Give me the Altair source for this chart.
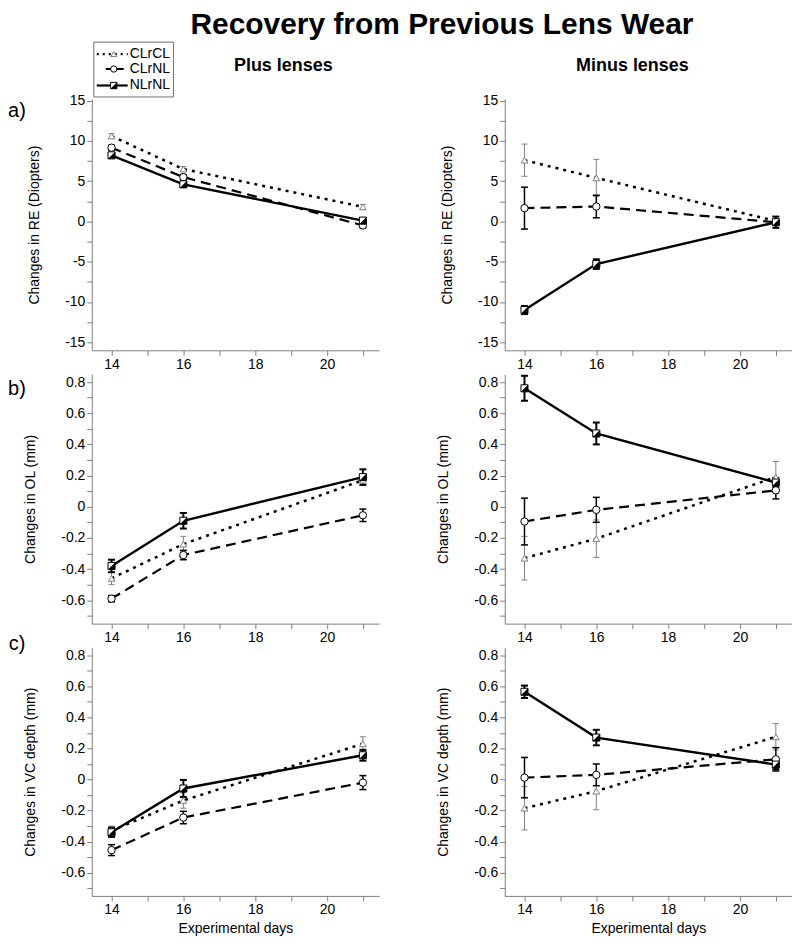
import altair as alt
import pandas as pd

FONT = "Liberation Sans"

days = [14, 16, 21]
series = ["CLrCL", "CLrNL", "NLrNL"]
headers = ["Plus lenses", "Minus lenses"]
panel_letters = ["a)", "b)", "c)"]
main_title = "Recovery from Previous Lens Wear"
y_titles = ["Changes in RE (Diopters)", "Changes in OL (mm)", "Changes in VC depth (mm)"]
x_title = "Experimental days"

x_ticks = [14, 15, 16, 17, 18, 19, 20, 21]
re_ticks = [-15, -12.5, -10, -7.5, -5, -2.5, 0, 2.5, 5, 7.5, 10, 12.5, 15]
mm_ticks = [-0.7, -0.6, -0.5, -0.4, -0.3, -0.2, -0.1, 0, 0.1, 0.2, 0.3, 0.4, 0.5, 0.6, 0.7, 0.8]

# a) refractive error, plus lenses
re_plus_CLrCL = [10.6, 6.5, 1.8]
re_plus_CLrCL_se = [0.3, 0.3, 0.3]
re_plus_CLrNL = [9.15, 5.5, -0.5]
re_plus_CLrNL_se = [0.3, 0.3, 0.3]
re_plus_NLrNL = [8.2, 4.6, 0.1]
re_plus_NLrNL_se = [0.3, 0.3, 0.3]
# a) refractive error, minus lenses
re_minus_CLrCL = [7.6, 5.4, 0.05]
re_minus_CLrCL_se = [2.0, 2.3, 0.3]
re_minus_CLrNL = [1.65, 1.85, -0.1]
re_minus_CLrNL_se = [2.6, 1.4, 0.3]
re_minus_NLrNL = [-11.0, -5.3, -0.1]
re_minus_NLrNL_se = [0.5, 0.6, 0.7]
# b) optical length, plus lenses
ol_plus_CLrCL = [-0.46, -0.24, 0.17]
ol_plus_CLrCL_se = [0.04, 0.05, 0.02]
ol_plus_CLrNL = [-0.59, -0.31, -0.055]
ol_plus_CLrNL_se = [0.02, 0.03, 0.04]
ol_plus_NLrNL = [-0.38, -0.09, 0.19]
ol_plus_NLrNL_se = [0.04, 0.05, 0.05]
# b) optical length, minus lenses
ol_minus_CLrCL = [-0.33, -0.205, 0.19]
ol_minus_CLrCL_se = [0.14, 0.12, 0.10]
ol_minus_CLrNL = [-0.095, -0.02, 0.105]
ol_minus_CLrNL_se = [0.15, 0.08, 0.055]
ol_minus_NLrNL = [0.76, 0.47, 0.155]
ol_minus_NLrNL_se = [0.08, 0.07, 0.03]
# c) vitreous chamber depth, plus lenses
vc_plus_CLrCL = [-0.33, -0.135, 0.23]
vc_plus_CLrCL_se = [0.03, 0.05, 0.045]
vc_plus_CLrNL = [-0.455, -0.245, -0.02]
vc_plus_CLrNL_se = [0.035, 0.04, 0.045]
vc_plus_NLrNL = [-0.34, -0.058, 0.156]
vc_plus_NLrNL_se = [0.03, 0.055, 0.035]
# c) vitreous chamber depth, minus lenses
vc_minus_CLrCL = [-0.185, -0.075, 0.275]
vc_minus_CLrCL_se = [0.14, 0.12, 0.085]
vc_minus_CLrNL = [0.012, 0.03, 0.13]
vc_minus_CLrNL_se = [0.13, 0.07, 0.075]
vc_minus_NLrNL = [0.565, 0.27, 0.096]
vc_minus_NLrNL_se = [0.04, 0.05, 0.03]

PANEL_DATA = {
    ("re", "plus"): [(re_plus_CLrCL, re_plus_CLrCL_se), (re_plus_CLrNL, re_plus_CLrNL_se), (re_plus_NLrNL, re_plus_NLrNL_se)],
    ("re", "minus"): [(re_minus_CLrCL, re_minus_CLrCL_se), (re_minus_CLrNL, re_minus_CLrNL_se), (re_minus_NLrNL, re_minus_NLrNL_se)],
    ("ol", "plus"): [(ol_plus_CLrCL, ol_plus_CLrCL_se), (ol_plus_CLrNL, ol_plus_CLrNL_se), (ol_plus_NLrNL, ol_plus_NLrNL_se)],
    ("ol", "minus"): [(ol_minus_CLrCL, ol_minus_CLrCL_se), (ol_minus_CLrNL, ol_minus_CLrNL_se), (ol_minus_NLrNL, ol_minus_NLrNL_se)],
    ("vc", "plus"): [(vc_plus_CLrCL, vc_plus_CLrCL_se), (vc_plus_CLrNL, vc_plus_CLrNL_se), (vc_plus_NLrNL, vc_plus_NLrNL_se)],
    ("vc", "minus"): [(vc_minus_CLrCL, vc_minus_CLrCL_se), (vc_minus_CLrNL, vc_minus_CLrNL_se), (vc_minus_NLrNL, vc_minus_NLrNL_se)],
}

STYLE = {
    "CLrCL": dict(dash=[3, 5], lw=2.5, ecolor="#808080", ew=1, cap=6),
    "CLrNL": dict(dash=[10, 6], lw=2.2, ecolor="black", ew=1.5, cap=7),
    "NLrNL": dict(dash=None, lw=2.4, ecolor="black", ew=2, cap=7),
}
HALF = "M 1 -1 L 1 1 L -1 1 Z"

W = 288
HEIGHTS = [252, 250, 249]
XDOM = [13.45, 21.45]
YDOM = {"re": [-16, 15.2], "ol": [-0.75, 0.85], "vc": [-0.75, 0.85]}


def x_enc(show_title):
    return alt.X(
        "day:Q",
        scale=alt.Scale(domain=XDOM, nice=False, zero=False),
        axis=alt.Axis(
            values=x_ticks,
            labelExpr="datum.value % 2 == 0 ? toString(datum.value) : ''",
            title=x_title if show_title else None,
            titlePadding=5,
        ),
    )


def y_enc(field, key, row):
    if key == "re":
        vals, lexpr = re_ticks, "datum.value % 5 == 0 ? toString(datum.value) : ''"
    else:
        vals, lexpr = mm_ticks, "abs(round(datum.value * 10)) % 2 == 0 ? toString(datum.value) : ''"
    return alt.Y(
        f"{field}:Q",
        scale=alt.Scale(domain=YDOM[key], nice=False, zero=False),
        axis=alt.Axis(values=vals, labelExpr=lexpr, title=y_titles[row], titlePadding=23),
    )


def make_panel(row, col):
    key = ["re", "ol", "vc"][row]
    side = ["plus", "minus"][col]
    show_x_title = row == 2
    frames = {}
    for s, (vals, se) in zip(series, PANEL_DATA[(key, side)]):
        frames[s] = pd.DataFrame({
            "day": days,
            "val": vals,
            "lo": [v - e for v, e in zip(vals, se)],
            "hi": [v + e for v, e in zip(vals, se)],
            "series": s,
        })
    X = x_enc(show_x_title)
    layers = []
    # lines
    for s in series:
        st = STYLE[s]
        kw = dict(color="black", strokeWidth=st["lw"], strokeCap="butt")
        if st["dash"]:
            kw["strokeDash"] = st["dash"]
        layers.append(alt.Chart(frames[s]).mark_line(**kw).encode(x=X, y=y_enc("val", key, row)))
    # error bars
    for s in series:
        st = STYLE[s]
        layers.append(alt.Chart(frames[s]).mark_rule(color=st["ecolor"], strokeWidth=st["ew"]).encode(
            x=X, y=y_enc("lo", key, row), y2="hi:Q"))
        for f in ["lo", "hi"]:
            layers.append(alt.Chart(frames[s]).mark_tick(
                orient="horizontal", color=st["ecolor"], size=st["cap"], thickness=st["ew"], opacity=1
            ).encode(x=X, y=y_enc(f, key, row)))
    # markers
    layers.append(alt.Chart(frames["CLrCL"]).mark_point(
        shape="triangle-up", size=45, filled=True, fill="white", stroke="#808080", strokeWidth=1, opacity=1
    ).encode(x=X, y=y_enc("val", key, row)))
    layers.append(alt.Chart(frames["CLrNL"]).mark_point(
        shape="circle", size=55, filled=True, fill="white", stroke="black", strokeWidth=1, opacity=1
    ).encode(x=X, y=y_enc("val", key, row)))
    layers.append(alt.Chart(frames["NLrNL"]).mark_point(
        shape="square", size=50, filled=True, fill="white", stroke="black", strokeWidth=1, opacity=1
    ).encode(x=X, y=y_enc("val", key, row)))
    layers.append(alt.Chart(frames["NLrNL"]).mark_point(
        shape=HALF, size=50, filled=True, fill="black", strokeWidth=0, opacity=1
    ).encode(x=X, y=y_enc("val", key, row)))

    # panel letter
    if col == 0:
        ly = [12, 15, -4][row]
        layers.append(alt.Chart(pd.DataFrame({"t": [panel_letters[row]]})).mark_text(
            font=FONT, fontSize=20, align="center", baseline="middle", color="black"
        ).encode(x=alt.value(-75), y=alt.value(ly), text="t:N"))
    # column headers
    if row == 0:
        hx = [192, 128][col]
        layers.append(alt.Chart(pd.DataFrame({"h": [headers[col]]})).mark_text(
            font=FONT, fontSize=18, fontWeight="bold", align="center", baseline="middle", color="black"
        ).encode(x=alt.value(hx), y=alt.value(-33), text="h:N"))
    # legend
    if row == 0 and col == 0:
        layers.append(alt.Chart(pd.DataFrame({"k": [0]})).mark_rect(
            fill="white", stroke="#707070", strokeWidth=1
        ).encode(x=alt.value(2), x2=alt.value(82), y=alt.value(-57), y2=alt.value(-2)))
        ys = [-45, -30, -13.5]
        xs0 = [5, 14, 5]
        for i, s in enumerate(series):
            st = STYLE[s]
            ldf = pd.DataFrame({"series": [s]})
            kw = dict(color="black", strokeWidth=st["lw"] * 0.9, strokeCap="butt")
            if st["dash"]:
                kw["strokeDash"] = [2, 4] if s == "CLrCL" else [7, 4]
            layers.append(alt.Chart(ldf).mark_rule(**kw).encode(
                x=alt.value(xs0[i]), x2=alt.value(36), y=alt.value(ys[i])))
            if s == "CLrCL":
                layers.append(alt.Chart(ldf).mark_point(
                    shape="triangle-up", size=35, filled=True, fill="white", stroke="#808080", strokeWidth=1, opacity=1
                ).encode(x=alt.value(22), y=alt.value(ys[i])))
            elif s == "CLrNL":
                layers.append(alt.Chart(ldf).mark_point(
                    shape="circle", size=40, filled=True, fill="white", stroke="black", strokeWidth=1, opacity=1
                ).encode(x=alt.value(22), y=alt.value(ys[i])))
            else:
                layers.append(alt.Chart(ldf).mark_point(
                    shape="square", size=40, filled=True, fill="white", stroke="black", strokeWidth=1, opacity=1
                ).encode(x=alt.value(22), y=alt.value(ys[i])))
                layers.append(alt.Chart(ldf).mark_point(
                    shape=HALF, size=40, filled=True, fill="black", strokeWidth=0, opacity=1
                ).encode(x=alt.value(22), y=alt.value(ys[i])))
            layers.append(alt.Chart(ldf).mark_text(
                font=FONT, fontSize=14, align="left", baseline="middle", color="black"
            ).encode(x=alt.value(38), y=alt.value(ys[i]), text="series:N"))

    return alt.layer(*layers).properties(width=W, height=HEIGHTS[row])


panels = [make_panel(r, c) for r in range(3) for c in range(2)]

chart = alt.concat(
    *panels,
    columns=2,
    spacing={"row": 24, "column": 126},
    bounds="flush",
    padding=0,
).properties(
    title=alt.TitleParams(
        main_title, font=FONT, fontSize=30, fontWeight="bold", color="black",
        anchor="middle", dx=42, offset=2,
    )
).configure_axis(
    domainColor="#808080", tickColor="#808080", domainWidth=1, tickWidth=1,
    labelColor="black", labelFont=FONT, labelFontSize=14,
    titleFont=FONT, titleFontSize=14, titleFontWeight="normal", titleColor="black",
    grid=False, tickSize=5, labelPadding=2, labelFlush=False, labelOverlap=False, labelBound=False,
).configure_view(stroke=None)

chart.save("out.html", embed_options={"renderer": "svg", "actions": False})
